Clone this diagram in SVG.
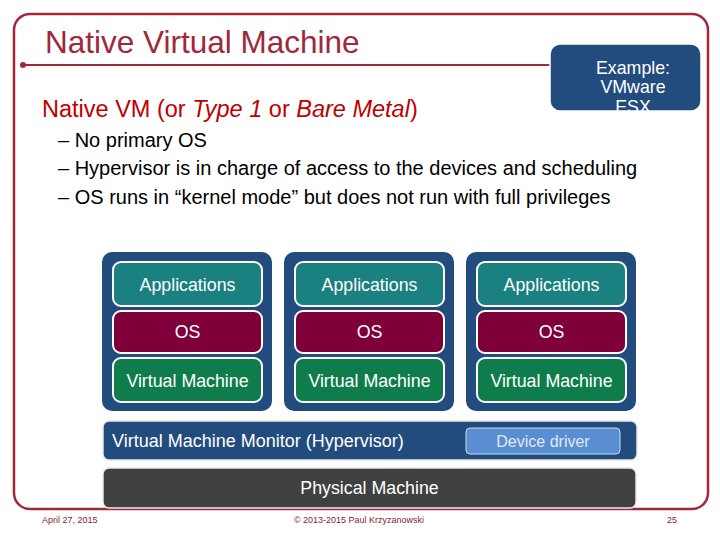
<svg xmlns="http://www.w3.org/2000/svg" width="720" height="540" viewBox="0 0 720 540">
<defs>
<style>
.t{font-family:"Liberation Sans",Arial,sans-serif}
.outer{fill:#234C7E}
.app{fill:#1A8080;stroke:#fff;stroke-width:2}
.os{fill:#7F0038;stroke:#fff;stroke-width:2}
.vm{fill:#0F7D4B;stroke:#fff;stroke-width:2}
.lbl{font-family:"Liberation Sans",Arial,sans-serif;font-size:17.8px;fill:#fff;text-anchor:middle}
.bul{font-family:"Liberation Sans",Arial,sans-serif;font-size:20px;fill:#000}
.foot{font-family:"Liberation Sans",Arial,sans-serif;font-size:9px;fill:#8B1A2E}
</style>
<clipPath id="exclip"><rect x="550" y="44" width="151" height="67" rx="10"/></clipPath>
</defs>
<rect width="720" height="540" fill="#fff"/>
<rect x="14" y="14" width="694" height="495" rx="16" fill="none" stroke="#A0283C" stroke-width="2.5"/>
<text class="t" x="45" y="53" font-size="31.5" fill="#A0283C">Native Virtual Machine</text>
<line x1="23" y1="65" x2="552" y2="65" stroke="#A0283C" stroke-width="2"/>
<circle cx="23" cy="65" r="3" fill="#A0283C"/>
<g id="example">
<rect x="550" y="44" width="151" height="67" rx="10" fill="#234C7E" stroke="#fff" stroke-width="1.5"/>
<g clip-path="url(#exclip)">
<text class="t" x="633" y="74" font-size="17.8" fill="#fff" text-anchor="middle">Example:</text>
<text class="t" x="633" y="93" font-size="17.8" fill="#fff" text-anchor="middle">VMware</text>
<text class="t" x="633" y="113" font-size="17.8" fill="#fff" text-anchor="middle">ESX</text>
</g>
</g>
<text class="t" x="42" y="117" font-size="23.5" fill="#C00000">Native VM (or <tspan font-style="italic">Type 1</tspan> or <tspan font-style="italic">Bare Metal</tspan>)</text>
<text class="bul" x="58" y="147">– No primary OS</text>
<text class="bul" x="58" y="175">– Hypervisor is in charge of access to the devices and scheduling</text>
<text class="bul" x="58" y="204">– OS runs in “kernel mode” but does not run with full privileges</text>

<g id="stack1">
<rect class="outer" x="102" y="252" width="170" height="159" rx="10"/>
<rect class="app" x="113" y="262" width="149" height="44" rx="8"/>
<text class="lbl" x="187.5" y="291">Applications</text>
<rect class="os" x="113" y="311" width="149" height="42" rx="8"/>
<text class="lbl" x="187.5" y="338">OS</text>
<rect class="vm" x="113" y="358" width="149" height="44" rx="8"/>
<text class="lbl" x="187.5" y="387">Virtual Machine</text>
</g>
<g id="stack2">
<rect class="outer" x="284" y="252" width="170" height="159" rx="10"/>
<rect class="app" x="295" y="262" width="149" height="44" rx="8"/>
<text class="lbl" x="369.5" y="291">Applications</text>
<rect class="os" x="295" y="311" width="149" height="42" rx="8"/>
<text class="lbl" x="369.5" y="338">OS</text>
<rect class="vm" x="295" y="358" width="149" height="44" rx="8"/>
<text class="lbl" x="369.5" y="387">Virtual Machine</text>
</g>
<g id="stack3">
<rect class="outer" x="466" y="252" width="170" height="159" rx="10"/>
<rect class="app" x="477" y="262" width="149" height="44" rx="8"/>
<text class="lbl" x="551.5" y="291">Applications</text>
<rect class="os" x="477" y="311" width="149" height="42" rx="8"/>
<text class="lbl" x="551.5" y="338">OS</text>
<rect class="vm" x="477" y="358" width="149" height="44" rx="8"/>
<text class="lbl" x="551.5" y="387">Virtual Machine</text>
</g>
<g id="hypervisor">
<rect x="103" y="421" width="534" height="39" rx="6" fill="#234C7E" stroke="#E8E8E8" stroke-width="1.5"/>
<text class="t" x="112" y="447" font-size="18" fill="#fff">Virtual Machine Monitor (Hypervisor)</text>
</g>
<g id="driver">
<rect x="466" y="428" width="154" height="26" rx="4" fill="#5A8ED2" stroke="#C6D9F0" stroke-width="1"/>
<text class="t" x="543" y="447" font-size="16" fill="#E0E8F4" text-anchor="middle">Device driver</text>
</g>
<g id="physical">
<rect x="103" y="468" width="533" height="40" rx="6" fill="#404040" stroke="#E8E8E8" stroke-width="1.5"/>
<text class="t" x="369.5" y="494" font-size="17.8" fill="#fff" text-anchor="middle">Physical Machine</text>
</g>
<g id="connectors"/>
<text class="foot" x="42" y="523">April 27, 2015</text>
<text class="foot" x="359" y="523" text-anchor="middle">© 2013-2015 Paul Krzyzanowski</text>
<text class="foot" x="672" y="523" text-anchor="middle">25</text>
</svg>
